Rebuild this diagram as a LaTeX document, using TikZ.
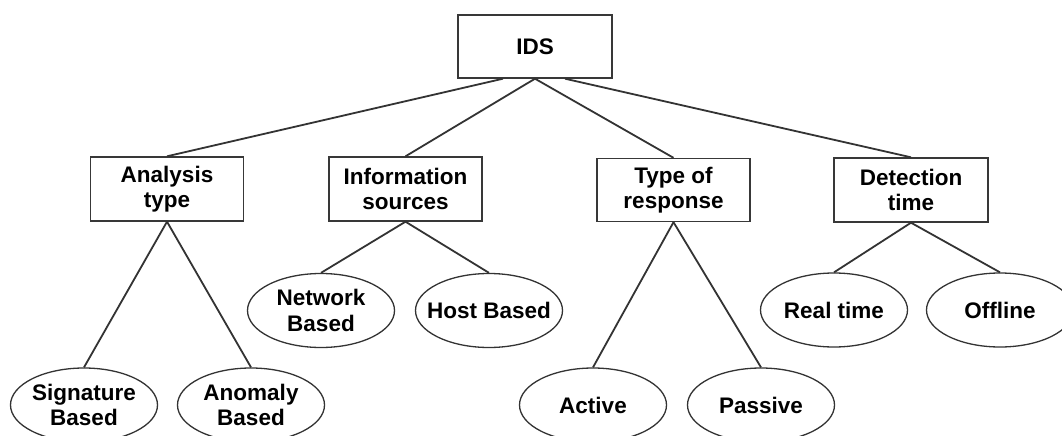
\documentclass[tikz,border=0pt]{standalone}
\usepackage{fontspec}
\setmainfont{Liberation Sans}
\usetikzlibrary{shapes.geometric}
\tikzset{
  lbl/.style={font=\bfseries\fontsize{22.5}{25.5}\selectfont, text=black, align=center},
  catbox/.style={lbl, draw=black!78, line width=1.4pt, rectangle, inner sep=0pt,
    minimum width=153pt, minimum height=64pt, fill=white},
  leaf/.style={draw=black!80, line width=1.3pt, ellipse, inner sep=0pt,
    minimum width=147pt, minimum height=74pt, fill=white},
  branch/.style={draw=black!80, line width=1.8pt}
}
\begin{document}
\begin{tikzpicture}[x=1pt,y=-1pt]
  \fill[white] (0,0) rectangle (1062,436);
  \useasboundingbox (0,0) rectangle (1062,436);
  \clip (0,0) rectangle (1062,436);

  % root
  \node[catbox, minimum width=154pt, minimum height=63pt] (ids) at (535,46.5) {IDS};
  \coordinate (idsL) at ([xshift=-32pt]ids.south);
  \coordinate (idsM) at (ids.south);
  \coordinate (idsR) at ([xshift=30pt]ids.south);

  % categories
  \node[catbox] (analysis) at (167,189) {Analysis\\type};
  \node[catbox] (info) at (405.5,189) {Information\\sources};
  \node[catbox, minimum height=63pt] (response) at (673.5,190) {Type of\\response};
  \node[catbox, minimum width=154pt] (dtime) at (911,190) {Detection\\time};

  % leaves: fixed-size ellipses, captions set on top
  \node[leaf] (sig) at (84,405) {};
  \node[leaf] (anom) at (251,405) {};
  \node[leaf] (net) at (321,310.5) {};
  \node[leaf] (host) at (489,310.5) {};
  \node[leaf] (active) at (593,405) {};
  \node[leaf] (passive) at (761,405) {};
  \node[leaf] (real) at (834,310) {};
  \node[leaf] (offline) at (1000,310) {};

  \node[lbl] (sig-t) at (sig) {Signature\\Based};
  \node[lbl] (anom-t) at (anom) {Anomaly\\Based};
  \node[lbl] (net-t) at (net) {Network\\Based};
  \node[lbl] (host-t) at (host) {Host Based};
  \node[lbl] (active-t) at (active) {Active};
  \node[lbl] (passive-t) at (passive) {Passive};
  \node[lbl] (real-t) at (real) {Real time};
  \node[lbl] (offline-t) at (offline) {Offline};

  % branches
  \draw[branch] (idsL) -- (analysis.north);
  \draw[branch] (idsM) -- (info.north);
  \draw[branch] (idsM) -- (response.north);
  \draw[branch] (idsR) -- (dtime.north);

  \draw[branch] (analysis.south) -- (sig.north);
  \draw[branch] (analysis.south) -- (anom.north);
  \draw[branch] (info.south) -- (net.north);
  \draw[branch] (info.south) -- (host.north);
  \draw[branch] (response.south) -- (active.north);
  \draw[branch] (response.south) -- (passive.north);
  \draw[branch] (dtime.south) -- (real.north);
  \draw[branch] (dtime.south) -- (offline.north);
\end{tikzpicture}
\end{document}
